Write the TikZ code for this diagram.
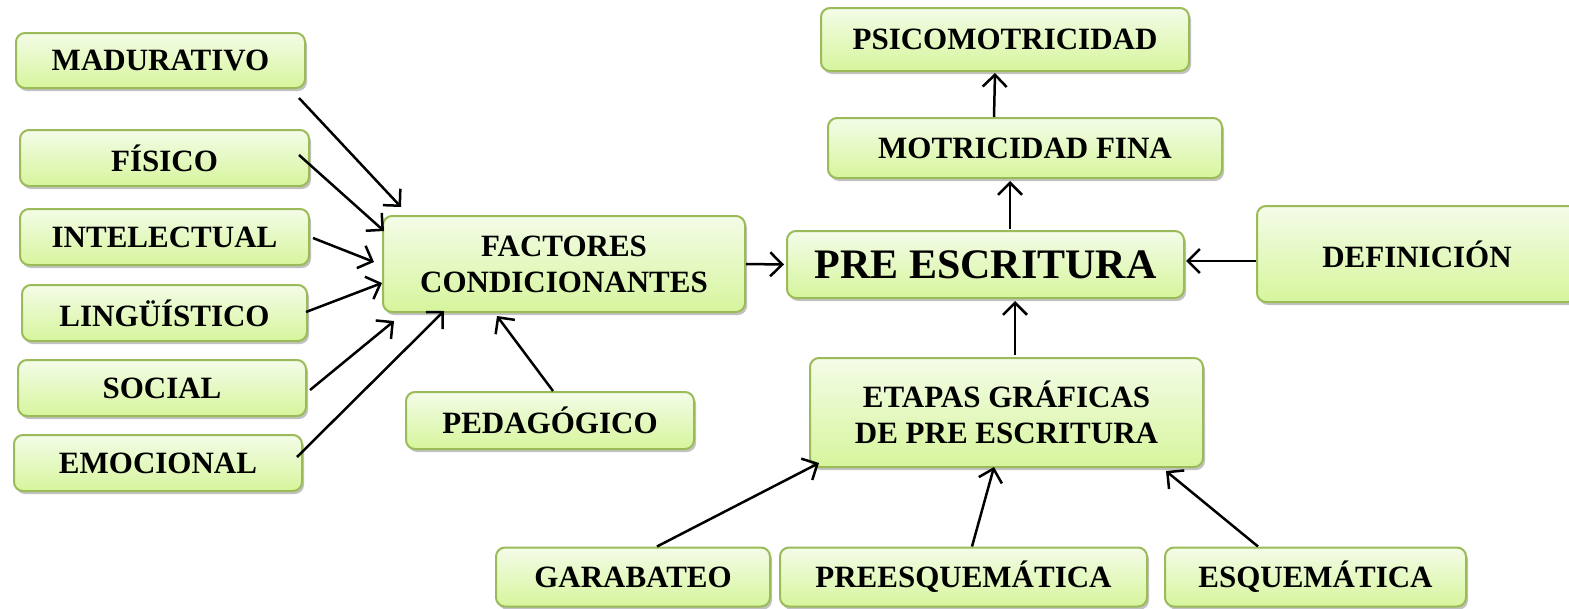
\documentclass[tikz,border=0pt]{standalone}
\usepackage{fontspec}
\setmainfont{Liberation Serif}
\usetikzlibrary{arrows.meta,shadows}

\definecolor{boxline}{HTML}{9BBB59}
\definecolor{boxtop}{HTML}{F4FCE8}
\definecolor{boxbot}{HTML}{D6F59C}

\tikzset{
  cajon/.style={draw=boxline, line width=2pt, rounded corners=9pt,
    top color=boxtop, bottom color=boxbot, inner sep=0pt, align=center,
    drop shadow={shadow xshift=2pt, shadow yshift=-3pt, opacity=0.4, fill=black!60},
    font=\bfseries\fontsize{31}{36}\selectfont},
  flecha/.style={line width=2.5pt, -{Straight Barb[length=12pt,width=24pt,line width=2.5pt]}}
}

\begin{document}
\begin{tikzpicture}[x=1pt,y=-1pt]%[scale = 0.5]
%	\draw[help lines] (0,0) grid (1569,608);
	\useasboundingbox (0,0) rectangle (1569,608);
	% factores
	\node [cajon, minimum width=289pt, minimum height=55pt] (mad) at (160.5,60.5) {MADURATIVO};
	\node [cajon, minimum width=289pt, minimum height=56pt] (fis) at (164.5,158) {FÍSICO};
	\node [cajon, minimum width=289pt, minimum height=56pt] (inte) at (164.5,237) {INTELECTUAL};
	\node [cajon, minimum width=285pt, minimum height=56pt] (ling) at (164.5,313) {LINGÜÍSTICO};
	\node [cajon, minimum width=288pt, minimum height=56pt] (soc) at (162,388) {SOCIAL};
	\node [cajon, minimum width=288pt, minimum height=56pt] (emo) at (158,463) {EMOCIONAL};
	\node [cajon, minimum width=362pt, minimum height=96pt] (fac) at (564,264) {FACTORES\\CONDICIONANTES};
	\node [cajon, minimum width=288pt, minimum height=57pt] (ped) at (550,420.5) {PEDAGÓGICO};
	% centro
	\node [cajon, minimum width=397pt, minimum height=67pt, font=\bfseries\fontsize{42}{48}\selectfont] (pre) at (985.5,264.5) {PRE ESCRITURA};
	\node [cajon, minimum width=320pt, minimum height=96pt] (def) at (1417,254) {DEFINICIÓN};
	\node [cajon, minimum width=394pt, minimum height=60pt] (mot) at (1025,148) {MOTRICIDAD FINA};
	\node [cajon, minimum width=368pt, minimum height=63pt] (psi) at (1005,39.5) {PSICOMOTRICIDAD};
	\node [cajon, minimum width=393pt, minimum height=109pt] (eta) at (1006.5,412.5) {ETAPAS GRÁFICAS\\DE PRE ESCRITURA};
	% etapas
	\node [cajon, minimum width=274pt, minimum height=59pt] (gar) at (633,577) {GARABATEO};
	\node [cajon, minimum width=367pt, minimum height=59pt] (pree) at (963.5,577) {PREESQUEMÁTICA};
	\node [cajon, minimum width=301pt, minimum height=59pt] (esq) at (1315.5,577) {ESQUEMÁTICA};

	\draw [flecha] ([shift={(-7,9)}]mad.south east) -- ([shift={(19,-8)}]fac.north west);
	\draw [flecha] ([shift={(-11,-3)}]fis.east) -- ([shift={(2,16)}]fac.north west);
	\draw [flecha] ([shift={(3,1)}]inte.east) -- ([shift={(-8,-2)}]fac.west);
	\draw [flecha] ([shift={(-2,-1)}]ling.east) -- ([shift={(0,19)}]fac.west);
	\draw [flecha] ([shift={(3,2)}]soc.east) -- ([shift={(12,8)}]fac.south west);
	\draw [flecha] ([shift={(-6,-6)}]emo.east) -- ([shift={(62,-2)}]fac.south west);
	\draw [flecha] ([shift={(3,0)}]ped.north) -- ([shift={(-67,3)}]fac.south);
	\draw [flecha] (fac.east) -- ([shift={(-2,0)}]pre.west);
	\draw [flecha] ([shift={(0,7)}]def.west) -- ([shift={(1,-3.5)}]pre.east);
	\draw [flecha] ([shift={(24.5,-1)}]pre.north) -- ([shift={(-15,2)}]mot.south);
	\draw [flecha] ([shift={(-31,0)}]mot.north) -- ([shift={(-10,1)}]psi.south);
	\draw [flecha] ([shift={(8.5,-2)}]eta.north) -- ([shift={(29.5,2)}]pre.south);
	\draw [flecha] ([shift={(24,0)}]gar.north) -- ([shift={(10,-5)}]eta.south west);
	\draw [flecha] ([shift={(8.5,0)}]pree.north) -- ([shift={(-12.5,-1)}]eta.south);
	\draw [flecha] ([shift={(-57.5,0)}]esq.north) -- ([shift={(-38,3)}]eta.south east);
\end{tikzpicture}
\end{document}
